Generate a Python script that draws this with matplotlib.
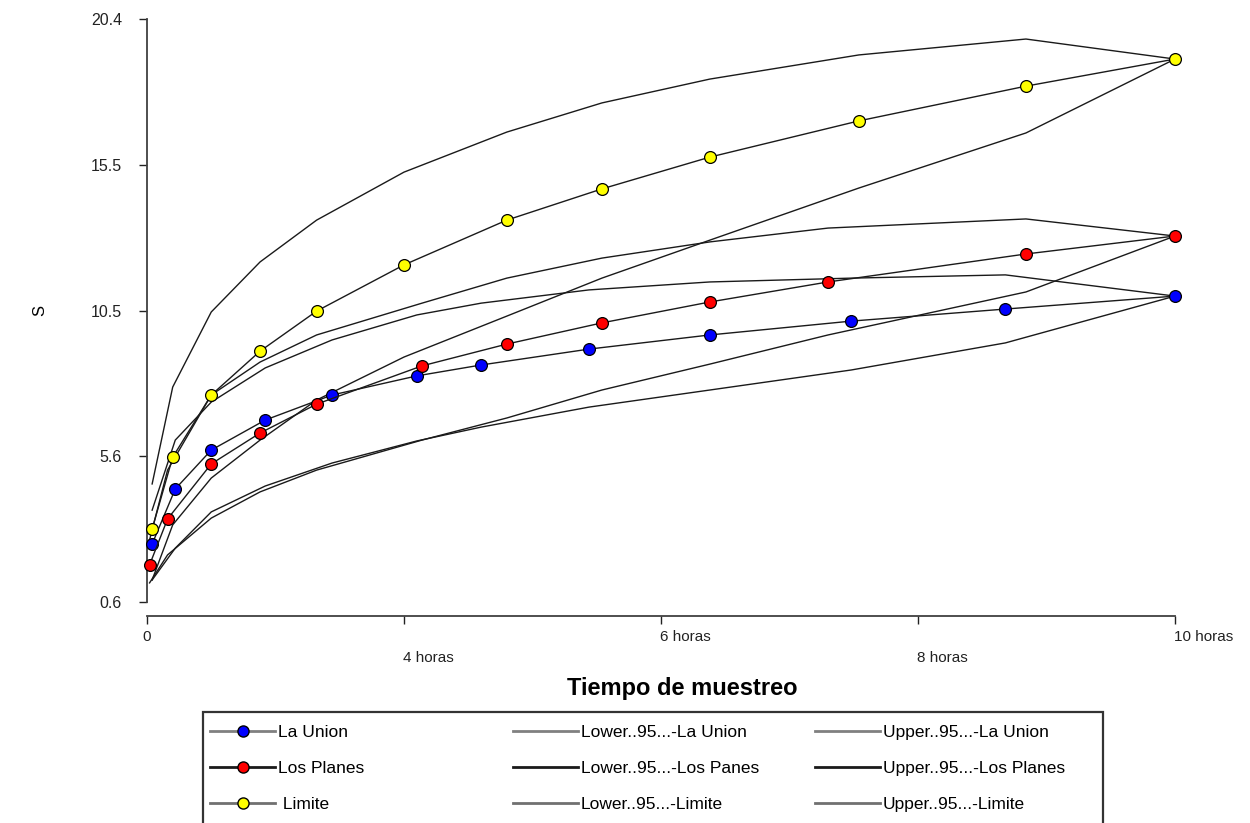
import matplotlib
matplotlib.use("Agg")
import matplotlib.pyplot as plt
from matplotlib.lines import Line2D
from matplotlib.patches import Rectangle
from matplotlib.transforms import ScaledTranslation

plt.rcParams['font.family'] = ['Liberation Sans', 'DejaVu Sans']

# ── Data (x in tick units: 0, 4 h, 6 h, 8 h, 10 h are equally spaced) ──
x_union = [0.02, 0.11, 0.25, 0.46, 0.72, 1.05, 1.30, 1.72, 2.19, 2.74, 3.34, 4.00]
s_union = [2.57, 4.44, 5.76, 6.78, 7.63, 8.28, 8.65, 9.19, 9.67, 10.14, 10.55, 10.99]
lo_union = [1.35, 2.43, 3.66, 4.54, 5.32, 6.07, 6.54, 7.22, 7.80, 8.48, 9.40, 10.99]
up_union = [3.72, 6.10, 7.39, 8.55, 9.50, 10.35, 10.75, 11.20, 11.47, 11.60, 11.71, 10.99]

x_planes = [0.01, 0.08, 0.25, 0.44, 0.66, 1.07, 1.40, 1.77, 2.19, 2.65, 3.42, 4.00]
s_planes = [1.86, 3.42, 5.29, 6.34, 7.32, 8.62, 9.36, 10.08, 10.79, 11.47, 12.42, 13.03]
lo_planes = [1.25, 2.20, 3.45, 4.34, 5.08, 6.10, 6.85, 7.80, 8.68, 9.67, 11.13, 13.03]
up_planes = [2.71, 5.08, 7.63, 8.75, 9.67, 10.75, 11.60, 12.28, 12.83, 13.30, 13.61, 13.03]

x_limite = [0.02, 0.10, 0.25, 0.44, 0.66, 1.00, 1.40, 1.77, 2.19, 2.77, 3.42, 4.00]
s_limite = [3.08, 5.52, 7.63, 9.12, 10.48, 12.05, 13.57, 14.63, 15.71, 16.94, 18.12, 19.04]
lo_limite = [1.35, 3.22, 4.81, 6.10, 7.46, 8.92, 10.31, 11.60, 12.89, 14.66, 16.53, 19.04]
up_limite = [4.61, 7.90, 10.45, 12.15, 13.57, 15.20, 16.56, 17.55, 18.36, 19.18, 19.72, 19.04]

xtick_major = [0, 2, 4]
xtick_major_labels = ["0", "6 horas", "10 horas"]
xtick_minor = [1, 3]
xtick_minor_labels = ["4 horas", "8 horas"]
ytick_vals = [0.6, 5.55, 10.5, 15.45, 20.4]
ytick_labels = ["0.6", "5.6", "10.5", "15.5", "20.4"]

fig = plt.figure(figsize=(12.5, 8.23), dpi=100)
ax = fig.add_axes([0.1176, 0.2685, 0.8224, 0.7084])

LINE = "#1a1a1a"
for xs, ys in [(x_union, lo_union), (x_union, up_union),
               (x_planes, lo_planes), (x_planes, up_planes),
               (x_limite, lo_limite), (x_limite, up_limite)]:
    ax.plot(xs, ys, color=LINE, lw=1.0, clip_on=False, zorder=2)

for xs, ys, fc in [(x_union, s_union, "#0000ff"),
                   (x_planes, s_planes, "#ff0000"),
                   (x_limite, s_limite, "#ffff00")]:
    ax.plot(xs, ys, "-o", color=LINE, lw=1.0, mfc=fc, mec="black", ms=8.5,
            mew=0.9, clip_on=False, zorder=3)

ax.set_xlim(0, 4)
ax.set_ylim(0.6, 20.4)

for s in ["top", "right"]:
    ax.spines[s].set_visible(False)
for s in ["left", "bottom"]:
    ax.spines[s].set_linewidth(1.3)
    ax.spines[s].set_color("#404040")
ax.spines["bottom"].set_position(("outward", 10))

ax.set_yticks(ytick_vals, ytick_labels)
ax.tick_params(axis="y", length=6, width=1, pad=12, labelsize=11.5, colors="#222222")

ax.set_xticks(xtick_major, xtick_major_labels)
ax.set_xticks(xtick_minor, xtick_minor_labels, minor=True)
ax.tick_params(axis="x", which="both", length=6, width=1, labelsize=11, colors="#222222")
ax.tick_params(axis="x", which="major", pad=4)
ax.tick_params(axis="x", which="minor", pad=19)
shift = ScaledTranslation(-1 / 100, 0, fig.dpi_scale_trans)
for lab in ax.get_xticklabels() + ax.get_xticklabels(minor=True):
    if lab.get_text() == "0":
        continue  # the zero label stays centred on its tick
    lab.set_ha("left")
    lab.set_transform(lab.get_transform() + shift)

ax.set_xlabel("Tiempo de muestreo", fontsize=17, fontweight="bold")
ax.xaxis.set_label_coords(0.521, -0.128)
ax.set_ylabel("S", fontsize=12)
ax.yaxis.set_label_coords(-0.097, 0.5)

# ── Legend ──
box = Rectangle((203 / 1250, -0.02), 900 / 1250, (823 - 712) / 823 + 0.02,
                transform=fig.transFigure, fill=False, edgecolor="#333333", lw=1.6)
fig.add_artist(box)

GRAY_U, BLACK_P, GRAY_L = "#808080", "#1a1a1a", "#707070"
col1 = [Line2D([], [], color=GRAY_U, lw=2, marker="o", mfc="#0000ff", mec="black", ms=8),
        Line2D([], [], color=BLACK_P, lw=2, marker="o", mfc="#ff0000", mec="black", ms=8),
        Line2D([], [], color=GRAY_L, lw=2, marker="o", mfc="#ffff00", mec="black", ms=8)]
col1_labels = ["La Union", "Los Planes", " Limite"]
col2 = [Line2D([], [], color=c, lw=2) for c in (GRAY_U, BLACK_P, GRAY_L)]
col2_labels = ["Lower..95...-La Union", "Lower..95...-Los Panes", "Lower..95...-Limite"]
col3 = [Line2D([], [], color=c, lw=2) for c in (GRAY_U, BLACK_P, GRAY_L)]
col3_labels = ["Upper..95...-La Union", "Upper..95...-Los Planes", "Upper..95...-Limite"]

FS = 12.5
for hs, ls, x0 in [(col1, col1_labels, 210), (col2, col2_labels, 513), (col3, col3_labels, 815)]:
    fig.legend(hs, ls, loc="upper left", bbox_to_anchor=(x0 / 1250, 1 - 725 / 823),
               frameon=False, fontsize=FS, handlelength=65 / (FS * 100 / 72),
               handletextpad=0.15, labelspacing=1.2, borderpad=0, borderaxespad=0)

fig.savefig("out.png", dpi=100)
